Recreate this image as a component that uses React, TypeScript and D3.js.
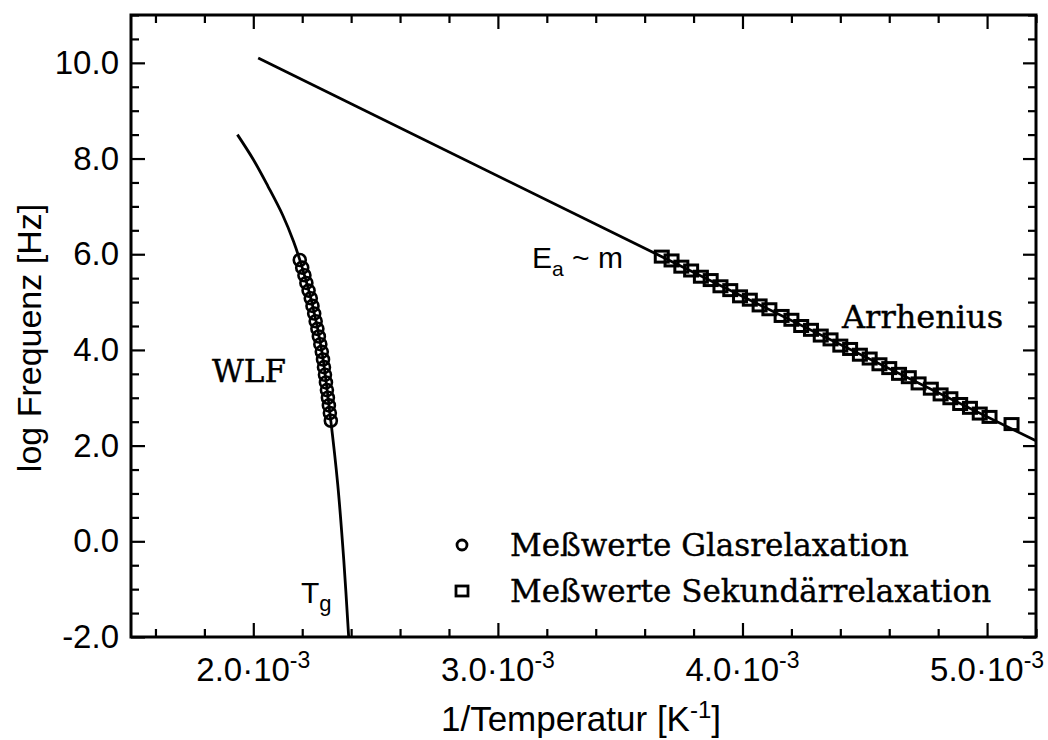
import * as d3 from "d3";
import { useEffect, useRef } from "react";

// x values in units of 10^-3 K^-1, y values are log10(f / Hz)
const wlfX = [1.935, 2.0, 2.06, 2.12, 2.165, 2.2, 2.24, 2.28, 2.315, 2.345, 2.37, 2.39];
const wlfY = [8.5, 7.98, 7.42, 6.82, 6.26, 5.72, 4.98, 3.98, 2.6, 1.2, -0.4, -2.0];

const arrX = [2.02, 5.2];
const arrY = [10.1, 2.1];

const glasX = [2.19, 2.2, 2.209, 2.217, 2.226, 2.235, 2.242, 2.249, 2.255, 2.262, 2.268, 2.274, 2.28, 2.285, 2.289, 2.293, 2.297, 2.301, 2.305, 2.309, 2.313, 2.317];
const glasY = [5.88, 5.72, 5.56, 5.4, 5.24, 5.08, 4.92, 4.76, 4.6, 4.44, 4.28, 4.12, 3.96, 3.8, 3.64, 3.48, 3.32, 3.16, 3.0, 2.84, 2.68, 2.52];

const sekX = [3.67, 3.71, 3.75, 3.79, 3.83, 3.87, 3.91, 3.95, 3.99, 4.03, 4.07, 4.11, 4.16, 4.2, 4.24, 4.28, 4.32, 4.36, 4.4, 4.44, 4.48, 4.52, 4.56, 4.6, 4.64, 4.68, 4.72, 4.77, 4.81, 4.85, 4.89, 4.93, 4.97, 5.01, 5.1];
const sekY = [5.95, 5.87, 5.74, 5.66, 5.53, 5.46, 5.33, 5.25, 5.12, 5.05, 4.93, 4.85, 4.71, 4.63, 4.5, 4.42, 4.3, 4.22, 4.09, 4.02, 3.9, 3.82, 3.7, 3.62, 3.5, 3.43, 3.3, 3.19, 3.07, 2.99, 2.87, 2.79, 2.67, 2.6, 2.45];

const yTicks = [-2, 0, 2, 4, 6, 8, 10];
const xTicks = [2, 3, 4, 5];

const sans = "'Liberation Sans', Arial, sans-serif";
const serif = "'DejaVu Serif', serif";

export default function App() {
  const ref = useRef<SVGSVGElement>(null);

  useEffect(() => {
    const svg = d3.select(ref.current);
    svg.selectAll("*").remove();

    const left = 131, right = 1036, top = 15, bottom = 637;
    const x = d3.scaleLinear().domain([1.5, 5.2]).range([left, right]);
    const y = d3.scaleLinear().domain([-2, 11]).range([bottom, top]);

    const yMinor = d3.range(-2, 11.01, 0.5).filter(v => v % 2 !== 0);
    const xMinor = d3.range(1.6, 5.21, 0.2).filter(v => Math.abs(v - Math.round(v)) > 0.01);

    const styleAxis = (g: any) => {
      g.select(".domain").remove();
      g.selectAll("line").attr("stroke", "#000").attr("stroke-width", 2.2);
    };

    // inward ticks on all four sides
    svg.append("g").attr("transform", `translate(${left},0)`)
      .call(d3.axisLeft(y).tickValues(yMinor).tickSize(-8).tickFormat(() => "")).call(styleAxis);
    svg.append("g").attr("transform", `translate(${left},0)`)
      .call(d3.axisLeft(y).tickValues(yTicks).tickSize(-14).tickPadding(12).tickFormat(d => (+d).toFixed(1)))
      .call(styleAxis)
      .selectAll("text").attr("font-family", sans).attr("font-size", 33).attr("fill", "#000");
    svg.append("g").attr("transform", `translate(${right},0)`)
      .call(d3.axisRight(y).tickValues(yMinor).tickSize(-8).tickFormat(() => "")).call(styleAxis);
    svg.append("g").attr("transform", `translate(${right},0)`)
      .call(d3.axisRight(y).tickValues(yTicks).tickSize(-13).tickFormat(() => "")).call(styleAxis);

    svg.append("g").attr("transform", `translate(0,${bottom})`)
      .call(d3.axisBottom(x).tickValues(xMinor).tickSize(-8).tickFormat(() => "")).call(styleAxis);
    svg.append("g").attr("transform", `translate(0,${bottom})`)
      .call(d3.axisBottom(x).tickValues(xTicks).tickSize(-14).tickFormat(() => "")).call(styleAxis);
    svg.append("g").attr("transform", `translate(0,${top})`)
      .call(d3.axisTop(x).tickValues(xMinor).tickSize(-8).tickFormat(() => "")).call(styleAxis);
    svg.append("g").attr("transform", `translate(0,${top})`)
      .call(d3.axisTop(x).tickValues(xTicks).tickSize(-14).tickFormat(() => "")).call(styleAxis);

    // frame
    svg.append("rect").attr("x", left).attr("y", top).attr("width", right - left).attr("height", bottom - top)
      .attr("fill", "none").attr("stroke", "#000").attr("stroke-width", 3);

    // x tick labels with exponent
    const xl = svg.append("g").selectAll("text").data(xTicks).join("text")
      .attr("x", d => x(d)).attr("y", 681).attr("text-anchor", "middle")
      .attr("font-family", sans).attr("font-size", 33);
    xl.append("tspan").text(d => `${d.toFixed(1)}·10`);
    xl.append("tspan").attr("dy", -13).attr("font-size", 23).text("-3");

    // axis titles
    const xt = svg.append("text").attr("x", 581).attr("y", 731).attr("text-anchor", "middle")
      .attr("font-family", sans).attr("font-size", 35);
    xt.append("tspan").text("1/Temperatur [K");
    xt.append("tspan").attr("dy", -13).attr("font-size", 24).text("-1");
    xt.append("tspan").attr("dy", 13).text("]");

    svg.append("text").attr("transform", "translate(41,338) rotate(-90)").attr("text-anchor", "middle")
      .attr("font-family", sans).attr("font-size", 34).text("log Frequenz [Hz]");

    // fit curves
    const line = d3.line<[number, number]>().x(d => x(d[0])).y(d => y(d[1]));
    svg.append("path").datum(wlfX.map((v, i) => [v, wlfY[i]] as [number, number]))
      .attr("d", line.curve(d3.curveCatmullRom)).attr("fill", "none").attr("stroke", "#000").attr("stroke-width", 2.8);
    svg.append("path").datum(arrX.map((v, i) => [v, arrY[i]] as [number, number]))
      .attr("d", line.curve(d3.curveLinear)).attr("fill", "none").attr("stroke", "#000").attr("stroke-width", 2.8);

    // measured points
    svg.append("g").selectAll("circle").data(glasX).join("circle")
      .attr("cx", d => x(d)).attr("cy", (d, i) => y(glasY[i])).attr("r", 6)
      .attr("fill", "none").attr("stroke", "#000").attr("stroke-width", 2.6);
    svg.append("g").selectAll("rect").data(sekX).join("rect")
      .attr("x", d => x(d) - 6.5).attr("y", (d, i) => y(sekY[i]) - 5.5).attr("width", 13).attr("height", 11)
      .attr("fill", "none").attr("stroke", "#000").attr("stroke-width", 3);

    // annotations
    svg.append("text").attr("x", 212).attr("y", 382).attr("font-family", serif).attr("font-size", 31)
      .attr("stroke", "#000").attr("stroke-width", 0.4).text("WLF");
    svg.append("text").attr("x", 842).attr("y", 328).attr("font-family", serif).attr("font-size", 32)
      .attr("stroke", "#000").attr("stroke-width", 0.4).text("Arrhenius");

    const ea = svg.append("text").attr("x", 532).attr("y", 268).attr("font-family", sans).attr("font-size", 30);
    ea.append("tspan").text("E");
    ea.append("tspan").attr("dy", 8).attr("font-size", 21).text("a");
    ea.append("tspan").attr("dy", -8).text(" ~ m");

    const tg = svg.append("text").attr("x", 301).attr("y", 603).attr("font-family", sans).attr("font-size", 30);
    tg.append("tspan").text("T");
    tg.append("tspan").attr("dy", 8).attr("font-size", 22).text("g");

    // legend
    svg.append("circle").attr("cx", 462).attr("cy", 545).attr("r", 5).attr("fill", "none")
      .attr("stroke", "#000").attr("stroke-width", 2.8);
    svg.append("rect").attr("x", 456).attr("y", 586).attr("width", 12).attr("height", 10).attr("fill", "none")
      .attr("stroke", "#000").attr("stroke-width", 2.8);
    svg.append("text").attr("x", 510).attr("y", 556).attr("font-family", serif).attr("font-size", 31)
      .attr("stroke", "#000").attr("stroke-width", 0.4).text("Meßwerte Glasrelaxation");
    svg.append("text").attr("x", 510).attr("y", 602).attr("font-family", serif).attr("font-size", 31)
      .attr("stroke", "#000").attr("stroke-width", 0.4).text("Meßwerte Sekundärrelaxation");
  }, []);

  return (
    <div style={{ position: "absolute", left: 0, top: 0 }}>
      <svg ref={ref} width={1048} height={740} style={{ display: "block", background: "#fff" }} />
    </div>
  );
}
